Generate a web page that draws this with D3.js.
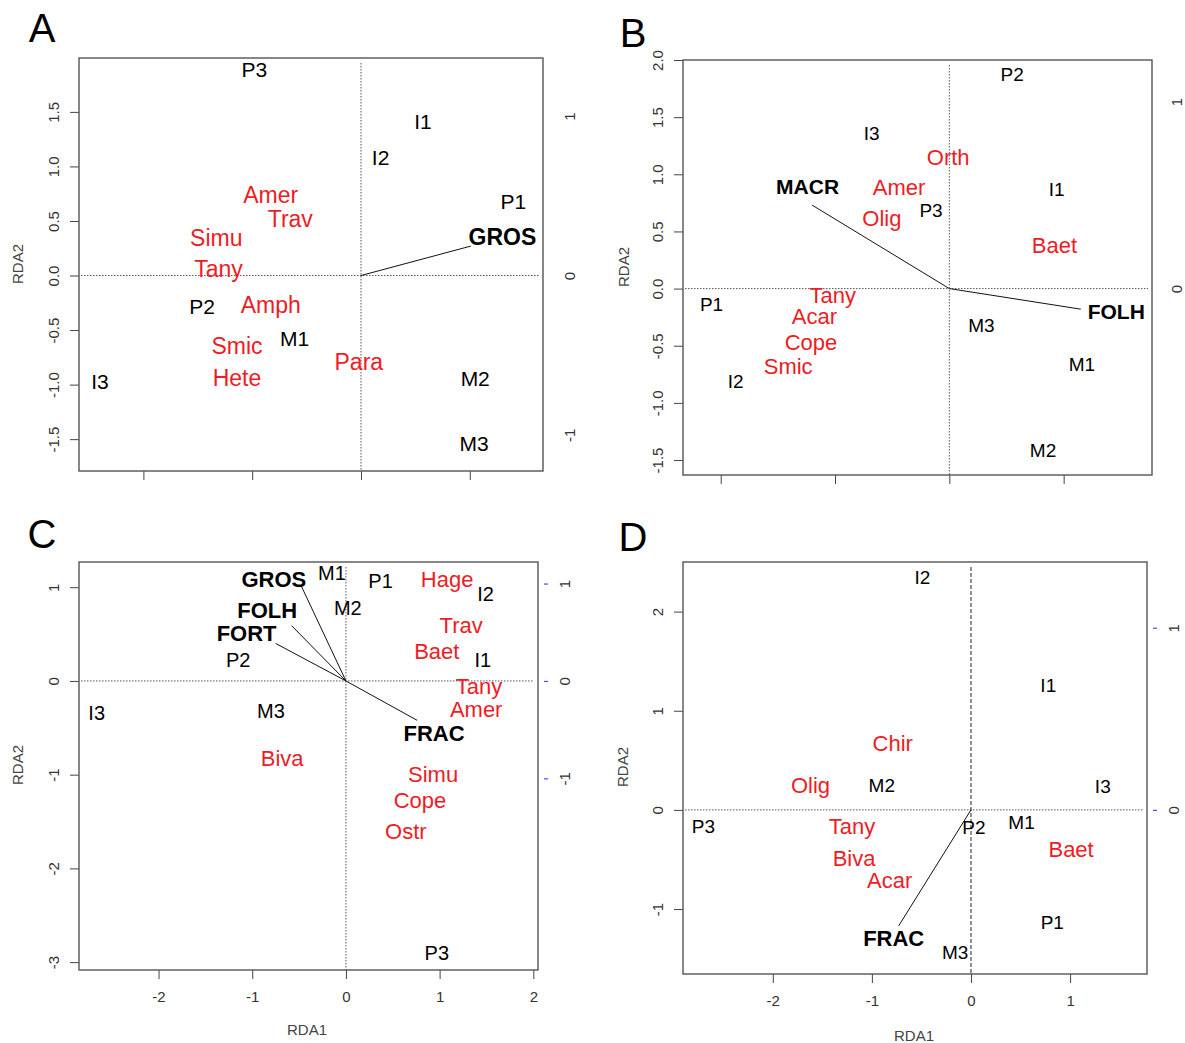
<!DOCTYPE html>
<html>
<head>
<meta charset="utf-8">
<script src="https://cdn.jsdelivr.net/npm/d3@7"></script>
<style>
  body { margin: 0; background: #fff; }
  svg { display: block; }
</style>
</head>
<body>
<div id="chart"></div>
<script>
// ---- Panel A data ----
const aSiteNames = ["P3", "I1", "I2", "P1", "P2", "M1", "I3", "M2", "M3"];
const aSiteX = [-0.98, 0.57, 0.18, 1.40, -1.46, -0.61, -2.40, 1.05, 1.04];
const aSiteY = [1.89, 1.41, 1.08, 0.68, -0.28, -0.58, -0.97, -0.94, -1.54];
const aSpeciesNames = ["Amer", "Trav", "Simu", "Tany", "Amph", "Smic", "Para", "Hete"];
const aSpeciesX = [-0.83, -0.65, -1.33, -1.31, -0.83, -1.14, -0.02, -1.14];
const aSpeciesY = [0.74, 0.52, 0.35, 0.06, -0.27, -0.64, -0.79, -0.94];
const aEnvNames = ["GROS"];
const aEnvX = [1.01];
const aEnvY = [0.27];
const aEnvLabelX = [1.30];
const aEnvLabelY = [0.36];
const aXTicks = [-2, -1, 0, 1];
const aYTicks = [1.5, 1, 0.5, 0, -0.5, -1, -1.5];
const aYTickLabels = ["1.5", "1.0", "0.5", "0.0", "-0.5", "-1.0", "-1.5"];
const aRightTicks = [-1, 0, 1];

// ---- Panel B data ----
const bSiteNames = ["P2", "I3", "I1", "P3", "P1", "M3", "M1", "I2", "M2"];
const bSiteX = [0.55, -0.68, 0.94, -0.16, -2.08, 0.28, 1.16, -1.87, 0.82];
const bSiteY = [1.88, 1.36, 0.87, 0.69, -0.14, -0.32, -0.66, -0.81, -1.41];
const bSpeciesNames = ["Orth", "Amer", "Olig", "Baet", "Tany", "Acar", "Cope", "Smic"];
const bSpeciesX = [-0.01, -0.44, -0.59, 0.92, -1.02, -1.18, -1.21, -1.41];
const bSpeciesY = [1.15, 0.89, 0.62, 0.38, -0.06, -0.24, -0.47, -0.68];
const bEnvNames = ["MACR", "FOLH"];
const bEnvX = [-1.20, 1.15];
const bEnvY = [0.73, -0.18];
const bEnvLabelX = [-1.24, 1.46];
const bEnvLabelY = [0.89, -0.20];
const bXTicks = [-2, -1, 0, 1];
const bYTicks = [2, 1.5, 1, 0.5, 0, -0.5, -1, -1.5];
const bYTickLabels = ["2.0", "1.5", "1.0", "0.5", "0.0", "-0.5", "-1.0", "-1.5"];
const bRightTicks = [0, 1];

// ---- Panel C data ----
const cSiteNames = ["M1", "P1", "I2", "M2", "P2", "I1", "I3", "M3", "P3"];
const cSiteX = [-0.15, 0.37, 1.49, 0.02, -1.15, 1.46, -2.66, -0.80, 0.97];
const cSiteY = [1.15, 1.07, 0.93, 0.78, 0.23, 0.23, -0.34, -0.32, -2.90];
const cSpeciesNames = ["Hage", "Trav", "Baet", "Tany", "Amer", "Biva", "Simu", "Cope", "Ostr"];
const cSpeciesX = [1.08, 1.23, 0.97, 1.42, 1.39, -0.68, 0.93, 0.79, 0.64];
const cSpeciesY = [1.09, 0.60, 0.32, -0.06, -0.30, -0.82, -0.99, -1.27, -1.60];
const cEnvNames = ["GROS", "FOLH", "FORT", "FRAC"];
const cEnvX = [-0.48, -0.58, -0.75, 0.76];
const cEnvY = [1.02, 0.59, 0.40, -0.42];
const cEnvLabelX = [-0.77, -0.84, -1.06, 0.94];
const cEnvLabelY = [1.09, 0.76, 0.51, -0.56];
const cXTicks = [-2, -1, 0, 1, 2];
const cYTicks = [1, 0, -1, -2, -3];
const cRightTicks = [-1, 0, 1];

// ---- Panel D data ----
const dSiteNames = ["I2", "I1", "M2", "I3", "P3", "P2", "M1", "P1", "M3"];
const dSiteX = [-0.49, 0.78, -0.90, 1.33, -2.70, 0.03, 0.51, 0.82, -0.16];
const dSiteY = [2.35, 1.26, 0.25, 0.24, -0.16, -0.17, -0.12, -1.13, -1.43];
const dSpeciesNames = ["Chir", "Olig", "Tany", "Baet", "Biva", "Acar"];
const dSpeciesX = [-0.79, -1.62, -1.20, 1.01, -1.18, -0.82];
const dSpeciesY = [0.67, 0.25, -0.16, -0.40, -0.49, -0.71];
const dEnvNames = ["FRAC"];
const dEnvX = [-0.73];
const dEnvY = [-1.17];
const dEnvLabelX = [-0.78];
const dEnvLabelY = [-1.29];
const dXTicks = [-2, -1, 0, 1];
const dYTicks = [2, 1, 0, -1];
const dRightTicks = [0, 1];

const FONT = "'Liberation Sans', Arial, Helvetica, sans-serif";
const RED = "#ee1c25";
// R prints a plain hyphen for negatives
const plain = d => String(d);

const svg = d3.select("#chart").append("svg")
    .attr("width", 1185)
    .attr("height", 1043)
    .style("background", "#fff");

function zip(names, xs, ys) {
    return names.map((n, i) => ({ name: n, x: xs[i], y: ys[i] }));
}

function drawPanel(p) {
    const g = svg.append("g");
    const b = p.box;

    const x = d3.scaleLinear().domain(p.xDomain).range([b.left, b.right]);
    const y = d3.scaleLinear().domain(p.yDomain).range([b.bottom, b.top]);
    // arrow axis on the right uses its own units
    const yR = d3.scaleLinear()
        .domain(p.yDomain.map(v => v / p.rightRatio))
        .range([b.bottom, b.top]);

    // panel letter
    g.append("text")
        .attr("x", p.letterPos[0])
        .attr("y", p.letterPos[1])
        .attr("text-anchor", "middle")
        .attr("font-family", FONT)
        .attr("font-size", 40)
        .attr("fill", "#000")
        .text(p.letter);

    // zero lines
    g.append("line")
        .attr("x1", b.left + 2).attr("x2", b.right - 4)
        .attr("y1", y(0)).attr("y2", y(0))
        .attr("stroke", "#555")
        .attr("stroke-width", 1)
        .attr("stroke-dasharray", "1.5,1.5");
    g.append("line")
        .attr("x1", x(0)).attr("x2", x(0))
        .attr("y1", b.top + 5).attr("y2", b.bottom)
        .attr("stroke", p.vDash ? "#222" : "#555")
        .attr("stroke-width", 1)
        .attr("stroke-dasharray", p.vDash || "1.5,1.5");

    // left axis
    const left = g.append("g")
        .attr("transform", `translate(${b.left},0)`)
        .call(d3.axisLeft(y).tickValues(p.yTicks)
            .tickFormat((d, i) => p.yTickLabels ? p.yTickLabels[i] : plain(d))
            .tickSize(9));
    left.select(".domain").remove();
    left.selectAll("line").attr("stroke", "#444");
    left.selectAll("text")
        .attr("x", null).attr("dy", null)
        .attr("transform", "translate(-20,0) rotate(-90)")
        .attr("text-anchor", "middle")
        .attr("font-family", FONT)
        .attr("font-size", 15)
        .attr("fill", "#333");

    // bottom axis
    const bottom = g.append("g")
        .attr("transform", `translate(0,${b.bottom})`)
        .call(d3.axisBottom(x).tickValues(p.xTicks)
            .tickFormat(p.xLabels ? plain : () => "")
            .tickSize(9));
    bottom.select(".domain").remove();
    bottom.selectAll("line").attr("stroke", "#444");
    bottom.selectAll("text")
        .attr("y", 27).attr("dy", "0.35em")
        .attr("font-family", FONT)
        .attr("font-size", 15)
        .attr("fill", "#333");

    // right axis (arrow scale)
    const right = g.append("g")
        .attr("transform", `translate(${b.right},0)`)
        .call(d3.axisRight(yR).tickValues(p.rightTicks).tickFormat(plain).tickSize(10));
    right.select(".domain").remove();
    right.selectAll("line")
        .attr("x1", 6)
        .attr("stroke", p.rightTickColor || "none")
        .attr("stroke-width", 1.2);
    right.selectAll("text")
        .attr("x", null).attr("dy", null)
        .attr("transform", `translate(${p.rightLabelOffset},0) rotate(-90)`)
        .attr("text-anchor", "middle")
        .attr("font-family", FONT)
        .attr("font-size", 15)
        .attr("fill", "#333");

    // frame
    g.append("rect")
        .attr("x", b.left).attr("y", b.top)
        .attr("width", b.right - b.left)
        .attr("height", b.bottom - b.top)
        .attr("fill", "none")
        .attr("stroke", "#555")
        .attr("stroke-width", 1.4);

    // axis titles
    g.append("text")
        .attr("transform", `translate(${p.yTitlePos[0] + 5},${p.yTitlePos[1]}) rotate(-90)`)
        .attr("text-anchor", "middle")
        .attr("font-family", FONT)
        .attr("font-size", 15)
        .attr("fill", "#444")
        .text("RDA2");
    if (p.xTitlePos) {
        g.append("text")
            .attr("x", p.xTitlePos[0])
            .attr("y", p.xTitlePos[1])
            .attr("dy", "0.35em")
            .attr("text-anchor", "middle")
            .attr("font-family", FONT)
            .attr("font-size", 15)
            .attr("fill", "#444")
            .text("RDA1");
    }

    // environmental arrows
    g.selectAll(".arrow")
        .data(p.env)
        .enter().append("line")
        .attr("class", "arrow")
        .attr("x1", x(0)).attr("y1", y(0))
        .attr("x2", d => x(d.x)).attr("y2", d => y(d.y))
        .attr("stroke", "#111")
        .attr("stroke-width", 1);

    // species (red)
    g.selectAll(".species")
        .data(p.species)
        .enter().append("text")
        .attr("class", "species")
        .attr("x", d => x(d.x))
        .attr("y", d => y(d.y))
        .attr("dy", "0.36em")
        .attr("text-anchor", "middle")
        .attr("font-family", FONT)
        .attr("font-size", p.speciesSize)
        .attr("fill", RED)
        .text(d => d.name);

    // sites (black)
    g.selectAll(".site")
        .data(p.sites)
        .enter().append("text")
        .attr("class", "site")
        .attr("x", d => x(d.x))
        .attr("y", d => y(d.y))
        .attr("dy", "0.36em")
        .attr("text-anchor", "middle")
        .attr("font-family", FONT)
        .attr("font-size", p.siteSize)
        .attr("fill", "#000")
        .text(d => d.name);

    // environmental labels (bold)
    g.selectAll(".envlab")
        .data(p.envLabels)
        .enter().append("text")
        .attr("class", "envlab")
        .attr("x", d => x(d.x))
        .attr("y", d => y(d.y))
        .attr("dy", "0.36em")
        .attr("text-anchor", "middle")
        .attr("font-family", FONT)
        .attr("font-weight", "bold")
        .attr("font-size", p.envSize)
        .attr("fill", "#000")
        .text(d => d.name);
}

drawPanel({
    letter: "A", letterPos: [42, 42],
    box: { left: 79, top: 58, right: 543, bottom: 471 },
    xDomain: [-2.592, 1.673], yDomain: [-1.792, 1.994], rightRatio: 1.461,
    xTicks: aXTicks, yTicks: aYTicks, yTickLabels: aYTickLabels, xLabels: false,
    rightTicks: aRightTicks, rightLabelOffset: 32,
    yTitlePos: [18, 264], xTitlePos: null,
    siteSize: 21, speciesSize: 23, envSize: 23,
    sites: zip(aSiteNames, aSiteX, aSiteY),
    species: zip(aSpeciesNames, aSpeciesX, aSpeciesY),
    env: zip(aEnvNames, aEnvX, aEnvY),
    envLabels: zip(aEnvNames, aEnvLabelX, aEnvLabelY)
});

drawPanel({
    letter: "B", letterPos: [633, 47],
    box: { left: 683, top: 60, right: 1152, bottom: 475 },
    xDomain: [-2.330, 1.773], yDomain: [-1.631, 2.0], rightRatio: 1.636,
    xTicks: bXTicks, yTicks: bYTicks, yTickLabels: bYTickLabels, xLabels: false,
    rightTicks: bRightTicks, rightLabelOffset: 30,
    yTitlePos: [624, 267], xTitlePos: null,
    siteSize: 19, speciesSize: 22, envSize: 21,
    sites: zip(bSiteNames, bSiteX, bSiteY),
    species: zip(bSpeciesNames, bSpeciesX, bSpeciesY),
    env: zip(bEnvNames, bEnvX, bEnvY),
    envLabels: zip(bEnvNames, bEnvLabelX, bEnvLabelY)
});

drawPanel({
    letter: "C", letterPos: [42, 548],
    box: { left: 79, top: 562, right: 538, bottom: 970 },
    xDomain: [-2.849, 2.050], yDomain: [-3.084, 1.269], rightRatio: 1.039,
    xTicks: cXTicks, yTicks: cYTicks, yTickLabels: null, xLabels: true,
    rightTicks: cRightTicks, rightLabelOffset: 32,
    yTitlePos: [18, 765], xTitlePos: [307, 1030],
    siteSize: 20, speciesSize: 22, envSize: 22,
    rightTickColor: "#4a4aff",
    sites: zip(cSiteNames, cSiteX, cSiteY),
    species: zip(cSpeciesNames, cSpeciesX, cSpeciesY),
    env: zip(cEnvNames, cEnvX, cEnvY),
    envLabels: zip(cEnvNames, cEnvLabelX, cEnvLabelY)
});

drawPanel({
    letter: "D", letterPos: [633, 551],
    box: { left: 683, top: 562, right: 1147, bottom: 974 },
    xDomain: [-2.906, 1.776], yDomain: [-1.655, 2.500], rightRatio: 1.837,
    xTicks: dXTicks, yTicks: dYTicks, yTickLabels: null, xLabels: true,
    rightTicks: dRightTicks, rightLabelOffset: 32,
    yTitlePos: [623, 767], xTitlePos: [914, 1036],
    siteSize: 19, speciesSize: 22, envSize: 22,
    rightTickColor: "#4a4aff", vDash: "4,2",
    sites: zip(dSiteNames, dSiteX, dSiteY),
    species: zip(dSpeciesNames, dSpeciesX, dSpeciesY),
    env: zip(dEnvNames, dEnvX, dEnvY),
    envLabels: zip(dEnvNames, dEnvLabelX, dEnvLabelY)
});
</script>
</body>
</html>
